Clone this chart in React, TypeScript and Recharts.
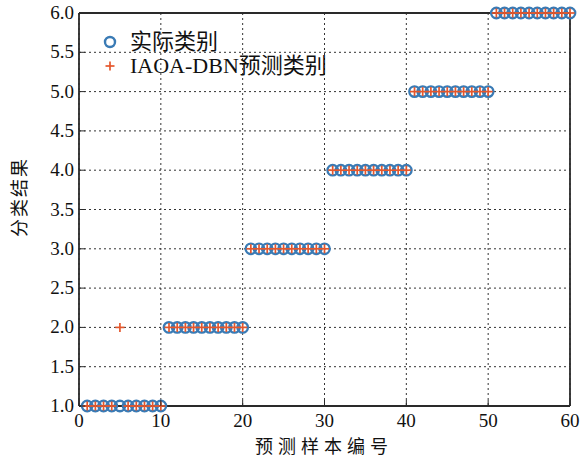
import { ScatterChart, Scatter, XAxis, YAxis, CartesianGrid, ReferenceLine } from "recharts"

const sampleIds = [
  1, 2, 3, 4, 5, 6, 7, 8, 9, 10,
  11, 12, 13, 14, 15, 16, 17, 18, 19, 20,
  21, 22, 23, 24, 25, 26, 27, 28, 29, 30,
  31, 32, 33, 34, 35, 36, 37, 38, 39, 40,
  41, 42, 43, 44, 45, 46, 47, 48, 49, 50,
  51, 52, 53, 54, 55, 56, 57, 58, 59, 60,
]

const actualClass = [
  1, 1, 1, 1, 1, 1, 1, 1, 1, 1,
  2, 2, 2, 2, 2, 2, 2, 2, 2, 2,
  3, 3, 3, 3, 3, 3, 3, 3, 3, 3,
  4, 4, 4, 4, 4, 4, 4, 4, 4, 4,
  5, 5, 5, 5, 5, 5, 5, 5, 5, 5,
  6, 6, 6, 6, 6, 6, 6, 6, 6, 6,
]

const predictedClass = [
  1, 1, 1, 1, 2, 1, 1, 1, 1, 1,
  2, 2, 2, 2, 2, 2, 2, 2, 2, 2,
  3, 3, 3, 3, 3, 3, 3, 3, 3, 3,
  4, 4, 4, 4, 4, 4, 4, 4, 4, 4,
  5, 5, 5, 5, 5, 5, 5, 5, 5, 5,
  6, 6, 6, 6, 6, 6, 6, 6, 6, 6,
]

const xTicks = [0, 10, 20, 30, 40, 50, 60]
const yTicks = [1, 1.5, 2, 2.5, 3, 3.5, 4, 4.5, 5, 5.5, 6]

const actualData = sampleIds.map((id, i) => ({ x: id, y: actualClass[i] }))
const predictedData = sampleIds.map((id, i) => ({ x: id, y: predictedClass[i] }))

const BLUE = "#3a7bb5"
const ORANGE = "#e5572c"
const AXIS = "#2a2a2a"
const FONT = '"Liberation Serif", "Noto Sans CJK SC", serif'

const Ring = (props: any) => {
  const { cx, cy } = props
  return <circle cx={cx} cy={cy} r={5.2} fill="none" stroke={BLUE} strokeWidth={2.4} />
}

const Plus = (props: any) => {
  const { cx, cy } = props
  return (
    <g stroke={ORANGE} strokeWidth={1.7}>
      <line x1={cx - 4.5} y1={cy} x2={cx + 4.5} y2={cy} />
      <line x1={cx} y1={cy - 4.5} x2={cx} y2={cy + 4.5} />
    </g>
  )
}

const XTick = (props: any) => {
  const { x, y, payload } = props
  return (
    <g>
      <line x1={x} y1={y} x2={x} y2={y - 6} stroke={AXIS} strokeWidth={1} />
      <text x={x} y={y + 21} textAnchor="middle" fontSize={19} fill="#111" fontFamily={FONT}>
        {payload.value}
      </text>
    </g>
  )
}

const YTick = (props: any) => {
  const { x, y, payload } = props
  return (
    <g>
      <line x1={x} y1={y} x2={x + 6} y2={y} stroke={AXIS} strokeWidth={1} />
      <text x={x - 5} y={y + 6} textAnchor="end" fontSize={19} fill="#111" fontFamily={FONT}>
        {Number(payload.value).toFixed(1)}
      </text>
    </g>
  )
}

export default function App() {
  return (
    <div style={{ position: "absolute", left: 0, top: 0, width: 584, height: 461, background: "#fff" }}>
      <ScatterChart width={584} height={461} margin={{ top: 13, right: 14, left: 0, bottom: 0 }}>
        <CartesianGrid stroke="#333" strokeDasharray="2 3" strokeWidth={1} />
        <XAxis
          type="number"
          dataKey="x"
          domain={[0, 60]}
          ticks={xTicks}
          height={55}
          tickSize={0}
          tickMargin={0}
          tick={<XTick />}
          axisLine={{ stroke: AXIS, strokeWidth: 1.8 }}
          interval={0}
        />
        <YAxis
          type="number"
          dataKey="y"
          domain={[1, 6]}
          ticks={yTicks}
          width={79}
          tickSize={0}
          tickMargin={0}
          tick={<YTick />}
          axisLine={{ stroke: AXIS, strokeWidth: 1.8 }}
          interval={0}
        />
        <ReferenceLine y={6} stroke={AXIS} strokeWidth={1.8} />
        <ReferenceLine x={60} stroke={AXIS} strokeWidth={1.8} />
        <Scatter name="实际类别" data={actualData} shape={<Ring />} isAnimationActive={false} />
        <Scatter name="IAOA-DBN预测类别" data={predictedData} shape={<Plus />} isAnimationActive={false} />
      </ScatterChart>
      <div
        style={{
          position: "absolute",
          left: 99,
          top: 30,
          fontFamily: FONT,
          fontSize: 22,
          color: "#111",
          lineHeight: "24px",
        }}
      >
        <div style={{ display: "flex", alignItems: "center" }}>
          <svg width={31} height={16}>
            <circle cx={11} cy={8} r={5} fill="none" stroke={BLUE} strokeWidth={2.4} />
          </svg>
          <span>实际类别</span>
        </div>
        <div style={{ display: "flex", alignItems: "center" }}>
          <svg width={31} height={16}>
            <g stroke={ORANGE} strokeWidth={1.7}>
              <line x1={6.5} y1={8} x2={15.5} y2={8} />
              <line x1={11} y1={3.5} x2={11} y2={12.5} />
            </g>
          </svg>
          <span>IAOA-DBN预测类别</span>
        </div>
      </div>
      <div
        style={{
          position: "absolute",
          left: 255,
          top: 432,
          fontFamily: FONT,
          fontSize: 18,
          letterSpacing: 5,
          color: "#111",
          whiteSpace: "nowrap",
        }}
      >
        预测样本编号
      </div>
      <div
        style={{
          position: "absolute",
          left: 18,
          top: 197,
          transform: "translate(-50%, -50%) rotate(-90deg)",
          fontFamily: FONT,
          fontSize: 18,
          letterSpacing: 2,
          color: "#111",
          whiteSpace: "nowrap",
        }}
      >
        分类结果
      </div>
    </div>
  )
}
